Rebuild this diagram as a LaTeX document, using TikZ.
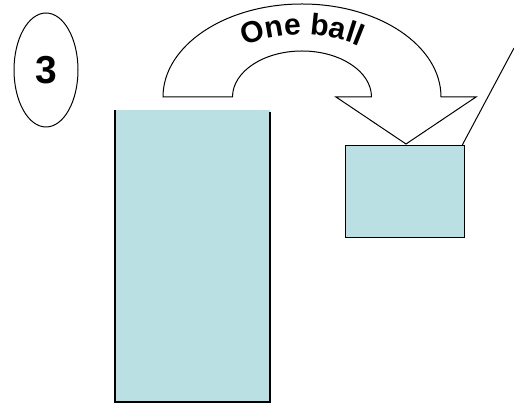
\documentclass[tikz,border=0pt]{standalone}
\usepackage{fontspec}
\setmainfont{Liberation Sans}
\usetikzlibrary{shapes.geometric,decorations.text}
\definecolor{jarblue}{RGB}{187,224,227}
\tikzset{
  outl/.style={draw=black,line width=1pt},
  boxfill/.style={fill=jarblue},
}
\begin{document}
\begin{tikzpicture}[x=1pt,y=1pt]
\useasboundingbox (0,0) rectangle (514,406);
% numbered ellipse
\node[ellipse,outl,minimum width=64pt,minimum height=114pt,inner sep=0pt,
  font=\fontsize{39}{41}\selectfont\bfseries] (num) at (46,336) {3};
% tall open-top jar
\fill[boxfill] (115,4) rectangle (270,296);
\coordinate (jtl) at (115,296);
\coordinate (jbl) at (115,4);
\coordinate (jbr) at (270,4);
\coordinate (jtr) at (270,294);
\draw[line width=1.4pt] (jtl) -- (jbl) -- (jbr) -- (jtr);
% small box
\node[boxfill,draw=black,line width=1.3pt,minimum width=119pt,minimum height=92pt,inner sep=0pt,anchor=north west] (box) at (345,261) {};
% curved arrow
\draw[outl,fill=white] (163,309) arc[start angle=180,end angle=0,x radius=139,y radius=93]
  -- (476,309) -- (406,262) -- (336,309) -- (371.5,309)
  arc[start angle=0,end angle=180,x radius=69.5,y radius=46] -- cycle;
% curved label
\path[decorate,decoration={text along path,text align=center,
  text={|\fontsize{30}{32}\selectfont\bfseries|One ball}}]
  (302,309) ++(132:100 and 62) arc[start angle=132,end angle=48,x radius=100,y radius=62];
% leader line
\coordinate (lead) at (514,358);
\draw[outl] ([xshift=-3pt]box.north east) -- (lead);
\end{tikzpicture}
\end{document}
